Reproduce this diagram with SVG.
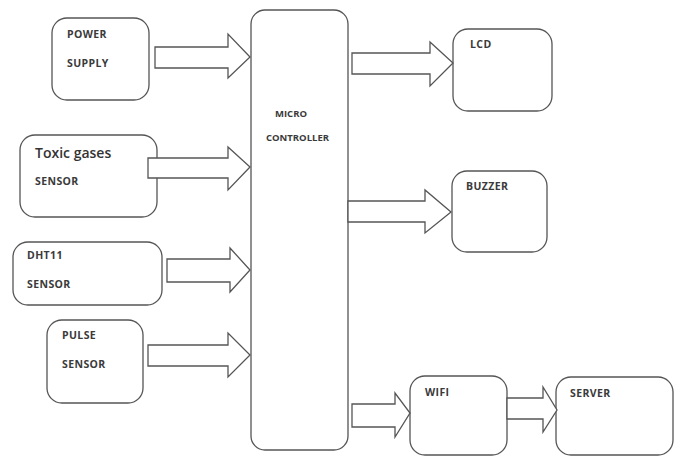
<svg xmlns="http://www.w3.org/2000/svg" width="680" height="457" viewBox="0 0 680 457">
<style>
.box{fill:#fff;stroke:#555;stroke-width:1.3}
.arr{fill:#fff;stroke:#555;stroke-width:1.3;stroke-linejoin:miter}
.t{font-family:"Open Sans","Liberation Sans",sans-serif;font-weight:bold;font-size:10.5px;letter-spacing:0.4px;fill:#3a3a3a}
.s{font-family:"Open Sans","Liberation Sans",sans-serif;font-weight:bold;font-size:9.5px;fill:#3a3a3a}
.b{font-family:"Open Sans","Liberation Sans",sans-serif;font-size:14px;font-weight:600;fill:#333}
</style>
<rect width="680" height="457" fill="#fff"/>
<g id="power">
<rect class="box" x="52" y="18" width="97" height="82" rx="15"/>
<text class="t" x="67" y="38">POWER</text>
<text class="t" x="67" y="67">SUPPLY</text>
</g>
<g id="toxic">
<rect class="box" x="20" y="135" width="137" height="82" rx="15"/>
<text class="b" x="35" y="158">Toxic gases</text>
<text class="t" x="35" y="185">SENSOR</text>
</g>
<g id="dht11">
<rect class="box" x="13" y="242" width="149" height="63" rx="15"/>
<text class="t" x="27" y="259">DHT11</text>
<text class="t" x="27" y="288">SENSOR</text>
</g>
<g id="pulse">
<rect class="box" x="47" y="320" width="96" height="83" rx="15"/>
<text class="t" x="62" y="339">PULSE</text>
<text class="t" x="62" y="368">SENSOR</text>
</g>
<g id="micro">
<rect class="box" x="251" y="10" width="97" height="440" rx="14"/>
<text class="s" x="275" y="117">MICRO</text>
<text class="s" x="266" y="141">CONTROLLER</text>
</g>
<g id="lcd">
<rect class="box" x="453" y="29" width="99" height="82" rx="15"/>
<text class="t" x="470" y="48">LCD</text>
</g>
<g id="buzzer">
<rect class="box" x="452" y="171" width="95" height="81" rx="15"/>
<text class="t" x="466" y="190">BUZZER</text>
</g>
<g id="wifi">
<rect class="box" x="410" y="376" width="97" height="79" rx="15"/>
<text class="t" x="425" y="396">WIFI</text>
</g>
<g id="server">
<rect class="box" x="556" y="377" width="117" height="78" rx="15"/>
<text class="t" x="570" y="397">SERVER</text>
</g>
<g id="connectors">
<polygon class="arr" points="155,47 228,47 228,34 250,57 228,78 228,68 155,68"/>
<polygon class="arr" points="148,158 228,158 228,147 250,167 228,190 228,178 148,178"/>
<polygon class="arr" points="167,259 230,259 230,248 250,270 230,292 230,282 167,282"/>
<polygon class="arr" points="148,345 228,345 228,333 250,355 228,377 228,366 148,366"/>
<polygon class="arr" points="352,53 430,53 430,42 453,63 430,86 430,74 352,74"/>
<polygon class="arr" points="348,201 425,201 425,190 451,212 425,233 425,222 348,222"/>
<polygon class="arr" points="352,404 395,404 395,393 410,413 395,437 395,427 352,427"/>
<polygon class="arr" points="507,398 543,398 543,387 557,410 543,432 543,419 507,419"/>
</g>
</svg>
